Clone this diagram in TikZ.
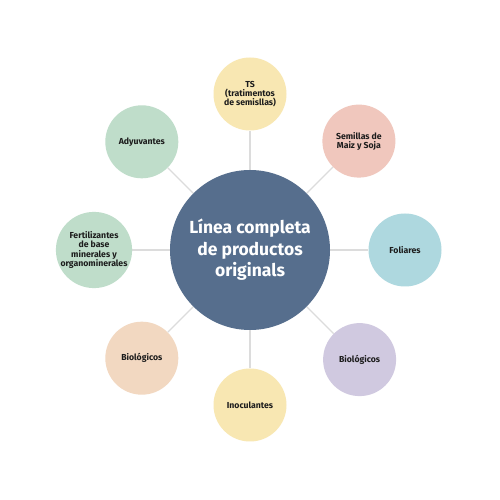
\documentclass[tikz,border=0pt]{standalone}
\usepackage{fontspec}
\setmainfont{Fira Sans}
\usetikzlibrary{calc,backgrounds}
\definecolor{cmain}{HTML}{566E8D}
\definecolor{cyel}{HTML}{F8E7B2}
\definecolor{cpink}{HTML}{F0C7BD}
\definecolor{cblue}{HTML}{AED8DF}
\definecolor{clav}{HTML}{D0C9E0}
\definecolor{cpeach}{HTML}{F2D8C1}
\definecolor{cmint}{HTML}{BFDDCA}
\definecolor{cline}{HTML}{DCDCDC}
\definecolor{ctext}{HTML}{1C1C1C}
\begin{document}
\begin{tikzpicture}[x=1pt,y=1pt,
  sat/.style={circle,minimum size=73pt,inner sep=0pt,align=center,text=ctext,font=\fontsize{8.7}{9.3}\selectfont\bfseries},
  hub/.style={circle,minimum size=160pt,inner sep=0pt,fill=cmain,align=center,text=white,font=\fontsize{17.5}{21.5}\selectfont\bfseries},
  link/.style={draw=cline,line width=1.4pt}]
\useasboundingbox (0,0) rectangle (500,500);
\node[hub] (c) at (250,250) {Línea completa\\de productos\\originals};
\node[sat,fill=cyel] (ts) at ($(c)+(90:156)$) {TS\\(tratimentos\\de semisllas)};
\node[sat,fill=cpink] (sem) at ($(c)+(45:154)$) {Semillas de\\Maiz y Soja};
\node[sat,fill=cblue] (fol) at ($(c)+(0:155)$) {Foliares};
\node[sat,fill=clav] (bior) at ($(c)+(-45:155)$) {Biológicos};
\node[sat,fill=cyel] (ino) at ($(c)+(-90:155)$) {Inoculantes};
\node[sat,fill=cpeach] (biol) at ($(c)+(-135:153)$) {Biológicos};
\node[sat,fill=cmint] (fer) at ($(c)+(180:156)$) {Fertilizantes\\de base\\minerales y\\organominerales};
\node[sat,fill=cmint] (ady) at ($(c)+(135:153)$) {Adyuvantes};
\begin{scope}[on background layer]
\fill[white] (0,0) rectangle (500,500);
\foreach \n in {ts,sem,fol,bior,ino,biol,fer,ady}{\draw[link] (c) -- (\n);}
\end{scope}
\end{tikzpicture}
\end{document}
